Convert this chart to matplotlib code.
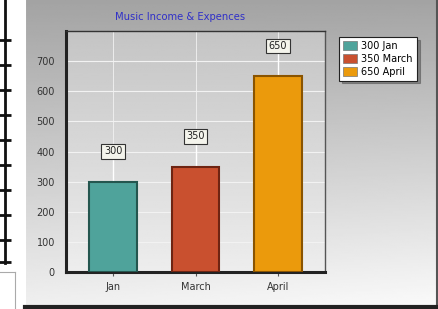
import numpy as np
import matplotlib.pyplot as plt
from matplotlib.patches import Patch

months = ['Jan', 'March', 'April']
values = [300, 350, 650]
colors = ['#4fa39b', '#c9502f', '#eb9a0c']
edges = ['#24564f', '#6e2412', '#8a5400']
legend_labels = ['300 Jan', '350 March', '650 April']
title = 'Music Income & Expences'

W, H = 439, 309
fig = plt.figure(figsize=(W / 100, H / 100), dpi=100)
fig.patch.set_facecolor('white')

# gray panel with gradient
panel = fig.add_axes([25 / W, 2 / H, 412 / W, 307 / H])
ty = np.linspace(0, 1, 200)[:, None]
tx = np.linspace(0, 1, 200)[None, :]
grad = 0.64 + 0.30 * ty + 0.04 * ty * tx
panel.imshow(grad, cmap='gray', vmin=0, vmax=1, aspect='auto',
             extent=[0, 1, 0, 1], interpolation='bilinear')
panel.set_xlim(0, 1)
panel.set_ylim(0, 1)
for s in panel.spines.values():
    s.set_visible(False)
panel.spines['bottom'].set_visible(True)
panel.spines['bottom'].set_linewidth(3)
panel.spines['bottom'].set_color('#222222')
panel.spines['right'].set_visible(True)
panel.spines['right'].set_linewidth(1.5)
panel.spines['right'].set_color('#555555')
panel.spines['left'].set_visible(True)
panel.spines['left'].set_color('white')
panel.spines['left'].set_linewidth(1.5)
panel.set_xticks([])
panel.set_yticks([])

# stray ruler from the screenshot on the left
ruler = fig.add_axes([5 / W, (H - 263) / H, 3 / W, 263 / H])
ruler.set_ylim(263, 0)
ruler.set_yticks(list(np.arange(40, 241, 25)) + [262])
ruler.tick_params(axis='y', direction='inout', length=8, width=2,
                  labelleft=False, color='#111111')
ruler.set_xticks([])
for k, s in ruler.spines.items():
    s.set_visible(k == 'left')
ruler.spines['left'].set_linewidth(2)
ruler.spines['left'].set_color('#111111')
ruler.patch.set_alpha(0)

box = fig.add_axes([-2 / W, -2 / H, 17 / W, 39 / H])
box.set_xticks([])
box.set_yticks([])
for s in box.spines.values():
    s.set_color('#aaaaaa')
    s.set_linewidth(0.8)

# main plot area
ax = fig.add_axes([66 / W, (H - 272) / H, 259 / W, 241 / H])
x = np.arange(len(months))
ax.set_xlim(-0.57, 2.57)
ax.set_ylim(0, 800)
bg = np.linspace(0.93, 0.77, 100)[:, None] * np.ones((1, 10))
ax.imshow(bg, cmap='gray', vmin=0, vmax=1, aspect='auto', origin='lower',
          extent=[-0.57, 2.57, 0, 800], zorder=0, interpolation='bilinear')
ax.set_axisbelow(True)
ax.yaxis.grid(True, color='#f2f2f2', linewidth=0.8)
ax.xaxis.grid(True, color='#f2f2f2', linewidth=0.6)

ax.bar(x, values, width=0.58, color=colors, edgecolor=edges,
       linewidth=1.5, zorder=3)

for xi, v in zip(x, values):
    ax.plot([xi, xi], [v, v + 100], color='white', linewidth=1, zorder=2)
    ax.text(xi, v + 100, str(v), ha='center', va='center', fontsize=7,
            color='#222222', zorder=4,
            bbox=dict(boxstyle='square,pad=0.25', facecolor='#f4f4ec',
                      edgecolor='#333333', linewidth=0.8))

ax.set_xticks(x)
ax.set_xticklabels(months)
ax.set_yticks(np.arange(0, 701, 100))
ax.tick_params(axis='y', length=0, labelsize=7, labelcolor='#333333', pad=8)
ax.tick_params(axis='x', length=3, labelsize=7, labelcolor='#333333',
               color='#555555', pad=4)
ax.spines['left'].set_linewidth(2.2)
ax.spines['left'].set_color('#222222')
ax.spines['bottom'].set_linewidth(2.2)
ax.spines['bottom'].set_color('#222222')
ax.spines['top'].set_color('#333333')
ax.spines['right'].set_color('#555555')
ax.spines['top'].set_linewidth(1)
ax.spines['right'].set_linewidth(1)

fig.text(180 / W, 1 - 17 / H, title, ha='center', va='center',
         fontsize=7.2, color='#3030c8')

handles = [Patch(facecolor=c, edgecolor='#777777', linewidth=0.5)
           for c in colors]
leg = fig.legend(handles, legend_labels, loc='upper left',
                 bbox_to_anchor=(339 / W, 1 - 37 / H), fontsize=7,
                 frameon=True, fancybox=False, shadow=True,
                 handlelength=1.5, handleheight=1.0, handletextpad=0.4,
                 labelspacing=0.3, borderpad=0.4, borderaxespad=0)
leg.get_frame().set_edgecolor('#222222')
leg.get_frame().set_linewidth(0.8)

fig.savefig('out.png', dpi=100)
